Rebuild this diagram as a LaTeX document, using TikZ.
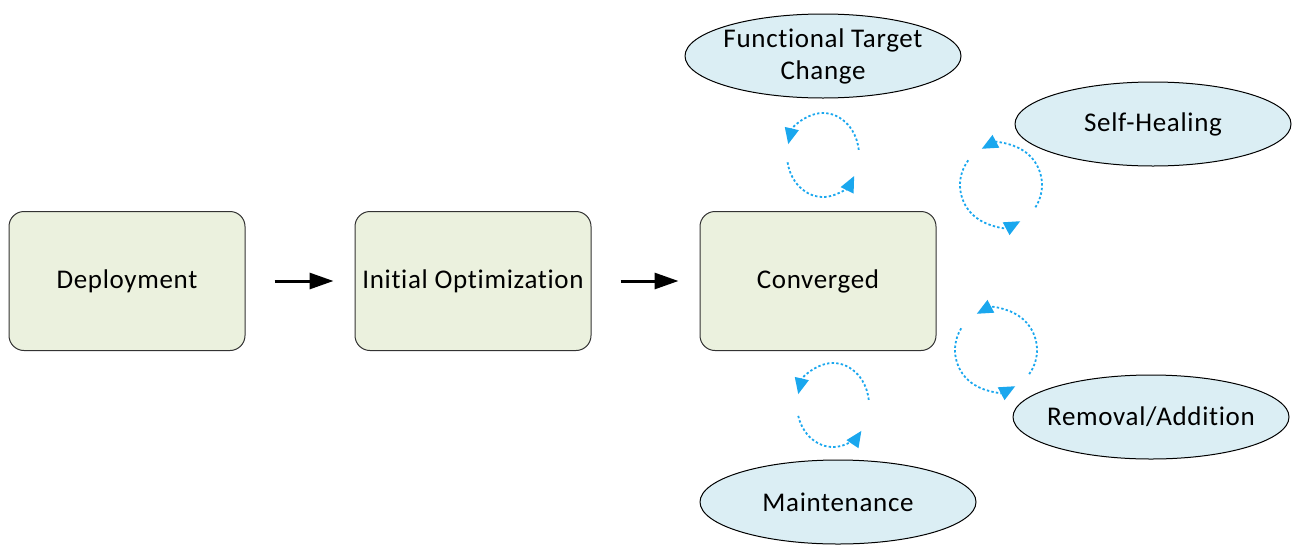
\documentclass[tikz,border=0pt]{standalone}
\usepackage{fontspec}
\setmainfont{Carlito}[Ligatures=CommonOff, LetterSpace=2.5]
\usetikzlibrary{arrows.meta,shapes.geometric,calc}
\definecolor{boxfill}{HTML}{EBF1DE}
\definecolor{ellfill}{HTML}{DBEEF4}
\definecolor{loopblue}{HTML}{1AA7EE}
\newcommand{\zw}[1]{\makebox[0pt]{#1}}
\tikzset{
  statebox/.style={draw=black!80, line width=1pt, fill=boxfill, rounded corners=15pt,
    minimum width=236pt, minimum height=139pt, inner sep=0pt, font=\fontsize{27}{32}\selectfont},
  trigger/.style={ellipse, draw=black, line width=1pt, fill=ellfill, minimum width=276pt,
    minimum height=84pt, inner sep=0pt, align=center, font=\fontsize{27}{32}\selectfont},
  flow/.style={line width=3pt, -{Triangle[length=24pt,width=16pt]}},
  loop/.style={loopblue, line width=1.8pt, dash pattern=on 2.4pt off 2.2pt,
    -{Triangle[length=16pt,width=14pt]}}
}
\begin{document}
\begin{tikzpicture}[x=1pt,y=-1pt]
\useasboundingbox (0,0) rectangle (1292,544);
\node[statebox] (dep) at (127,281) {Deployment};
\node[statebox] (opt) at (473,281) {Initial Optimization};
\node[statebox] (conv) at (818,281) {Converged};
\draw[flow, shorten <=29pt, shorten >=21pt] (dep.east) -- (opt.west);
\draw[flow, shorten <=29pt, shorten >=21pt] (opt.east) -- (conv.west);

\node[trigger] (ftc) at (823,56) {\zw{Functional Target}\\\zw{Change}};
\node[trigger] (sh) at (1153,124) {\zw{Self-Healing}};
\node[trigger] (ra) at (1151,417) {\zw{Removal/Addition}};
\node[trigger] (mt) at (838,502) {\zw{Maintenance}};

% circular arrows
\coordinate (c1) at (823,155);
\coordinate (c2) at (1001,185);
\coordinate (c3) at (996,350);
\coordinate (c4) at (833,405);

\draw[loop] ([shift={(7:36pt and 42pt)}]c1) arc[start angle=7, end angle=165, x radius=36pt, y radius=42pt];
\draw[loop] ([shift={(190:36pt and 42pt)}]c1) arc[start angle=190, end angle=330, x radius=36pt, y radius=42pt];

\draw[loop] ([shift={(-33:41pt and 41pt)}]c2) arc[start angle=-33, end angle=118, radius=41pt];
\draw[loop] ([shift={(143:41pt and 41pt)}]c2) arc[start angle=143, end angle=298, radius=41pt];

\draw[loop] ([shift={(-36:41pt and 41pt)}]c3) arc[start angle=-36, end angle=118, radius=41pt];
\draw[loop] ([shift={(148:41pt and 41pt)}]c3) arc[start angle=148, end angle=298, radius=41pt];

\draw[loop] ([shift={(7:36pt and 42pt)}]c4) arc[start angle=7, end angle=165, x radius=36pt, y radius=42pt];
\draw[loop] ([shift={(195:36pt and 42pt)}]c4) arc[start angle=195, end angle=322, x radius=36pt, y radius=42pt];
\end{tikzpicture}
\end{document}
